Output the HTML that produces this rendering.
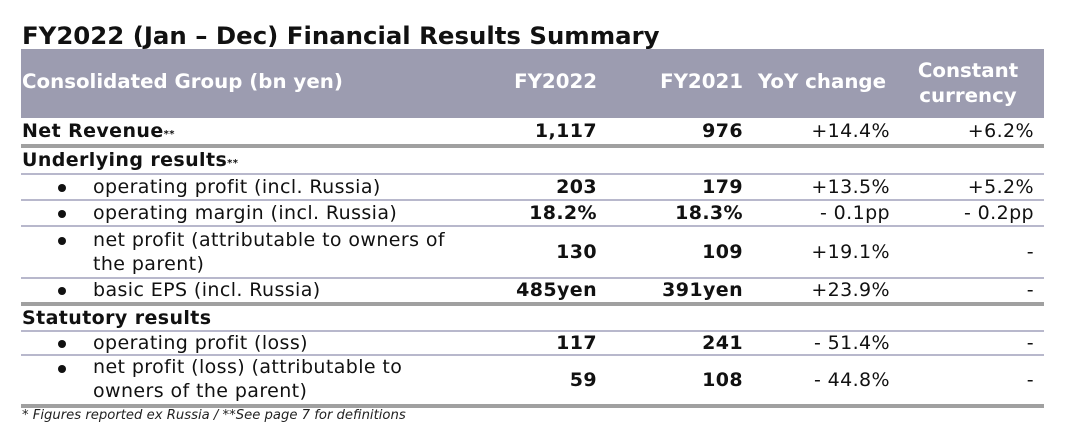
<!DOCTYPE html>
<html><head><meta charset="utf-8"><style>
body{margin:0;width:1080px;height:444px;background:#fff;position:relative;overflow:hidden;font-family:"DejaVu Sans","Liberation Sans",sans-serif;color:#111}
.a{position:absolute;white-space:nowrap}
.t{font-weight:bold;font-size:24.4px;left:22px;top:21px}
.hdr{left:21px;top:49px;width:1023px;height:69px;background:#9c9cb0}
.h{color:#fff;font-weight:bold;font-size:19.8px}
.r{font-size:19px;letter-spacing:0.4px}
.b{font-weight:bold}
.num{text-align:right}
.ln{position:absolute;left:21px;width:1023px;height:2px;background:#b8b8cc}
.tk{position:absolute;left:21px;width:1023px;height:4px;background:#a0a0a0}
.bul{position:absolute;left:58px;width:8px;height:8px;border-radius:50%;background:#111}
</style></head><body>
<div class="a t">FY2022 (Jan – Dec) Financial Results Summary</div>
<div class="a hdr"></div>
<div class="a h" style="left:22px;top:70px">Consolidated Group (bn yen)</div>
<div class="a h num" style="right:483px;top:70px">FY2022</div>
<div class="a h num" style="right:337px;top:70px">FY2021</div>
<div class="a h num" style="right:194px;top:70px">YoY change</div>
<div class="a h" style="left:910px;top:58px;text-align:center;line-height:25px;width:116px">Constant<br>currency</div>

<div class="a r b" style="left:22px;top:120px">Net Revenue<span style="font-size:10px">**</span></div>
<div class="a r b num" style="right:483px;top:120px">1,117</div>
<div class="a r b num" style="right:337px;top:120px">976</div>
<div class="a r num" style="right:190px;top:120px">+14.4%</div>
<div class="a r num" style="right:46px;top:120px">+6.2%</div>
<div class="tk" style="top:144px"></div>

<div class="a r b" style="left:22px;top:149px">Underlying results<span style="font-size:10px">**</span></div>
<div class="ln" style="top:173px"></div>

<div class="bul" style="top:184px"></div>
<div class="a r" style="left:93px;top:176px">operating profit (incl. Russia)</div>
<div class="a r b num" style="right:483px;top:176px">203</div>
<div class="a r b num" style="right:337px;top:176px">179</div>
<div class="a r num" style="right:190px;top:176px">+13.5%</div>
<div class="a r num" style="right:46px;top:176px">+5.2%</div>
<div class="ln" style="top:199px"></div>

<div class="bul" style="top:210px"></div>
<div class="a r" style="left:93px;top:202px">operating margin (incl. Russia)</div>
<div class="a r b num" style="right:483px;top:202px">18.2%</div>
<div class="a r b num" style="right:337px;top:202px">18.3%</div>
<div class="a r num" style="right:190px;top:202px">- 0.1pp</div>
<div class="a r num" style="right:46px;top:202px">- 0.2pp</div>
<div class="ln" style="top:225px"></div>

<div class="bul" style="top:237px"></div>
<div class="a r" style="left:93px;top:228px;line-height:24px">net profit (attributable to owners of<br>the parent)</div>
<div class="a r b num" style="right:483px;top:241px">130</div>
<div class="a r b num" style="right:337px;top:241px">109</div>
<div class="a r num" style="right:190px;top:241px">+19.1%</div>
<div class="a r num" style="right:46px;top:241px">-</div>
<div class="ln" style="top:277px"></div>

<div class="bul" style="top:287px"></div>
<div class="a r" style="left:93px;top:279px">basic EPS (incl. Russia)</div>
<div class="a r b num" style="right:483px;top:279px">485yen</div>
<div class="a r b num" style="right:337px;top:279px">391yen</div>
<div class="a r num" style="right:190px;top:279px">+23.9%</div>
<div class="a r num" style="right:46px;top:279px">-</div>
<div class="tk" style="top:302px"></div>

<div class="a r b" style="left:22px;top:307px">Statutory results</div>
<div class="ln" style="top:330px"></div>

<div class="bul" style="top:340px"></div>
<div class="a r" style="left:93px;top:332px">operating profit (loss)</div>
<div class="a r b num" style="right:483px;top:332px">117</div>
<div class="a r b num" style="right:337px;top:332px">241</div>
<div class="a r num" style="right:190px;top:332px">- 51.4%</div>
<div class="a r num" style="right:46px;top:332px">-</div>
<div class="ln" style="top:354px"></div>

<div class="bul" style="top:365px"></div>
<div class="a r" style="left:93px;top:355px;line-height:24px">net profit (loss) (attributable to<br>owners of the parent)</div>
<div class="a r b num" style="right:483px;top:369px">59</div>
<div class="a r b num" style="right:337px;top:369px">108</div>
<div class="a r num" style="right:190px;top:369px">- 44.8%</div>
<div class="a r num" style="right:46px;top:369px">-</div>
<div class="tk" style="top:404px"></div>

<div class="a" style="left:22px;top:408px;font-size:13.2px;font-style:italic;color:#222">* Figures reported ex Russia / **See page 7 for definitions</div>
</body></html>
